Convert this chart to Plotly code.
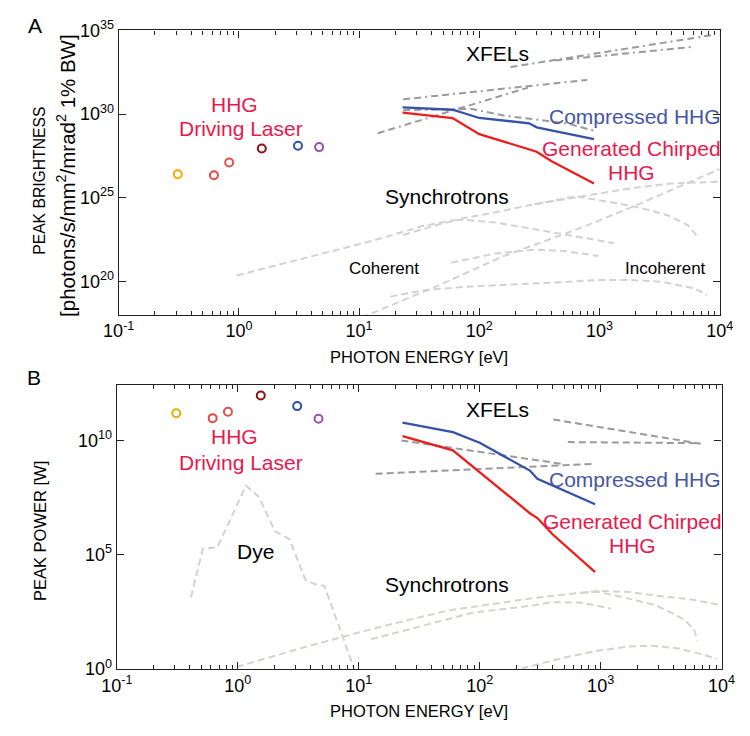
import plotly.graph_objects as go

# ---------------- data ----------------
laser_energy = [0.31, 0.62, 0.83, 1.55, 3.1, 4.65]
laser_colors = ["#f2a900", "#e8473f", "#e2504c", "#8b1212", "#2f50a8", "#9b4fb0"]
laser_brightness = [2.5e26, 2.2e26, 1.26e27, 8.7e27, 1.26e28, 1.05e28]
laser_power = [1.55e11, 9.5e10, 1.8e11, 9.3e11, 3.2e11, 8.9e10]

comp_E_A = [23, 60, 100, 260, 300, 900]
comp_B = [2.5e30, 1.8e30, 5.8e29, 2.8e29, 1.6e29, 3.2e28]
chirp_E_A = [23, 60, 100, 300, 400, 900]
chirp_B = [1.23e30, 5.8e29, 6.3e28, 5.6e27, 1.5e27, 7.1e25]

comp_E_B = [23, 60, 100, 260, 300, 900]
comp_P = [6.0e10, 2.3e10, 7.9e9, 4.8e8, 2.1e8, 1.6e7]
chirp_E_B = [23, 60, 260, 300, 400, 900]
chirp_P = [1.55e10, 3.7e9, 6.5e6, 4.0e6, 7.8e5, 1.7e4]

# XFELs, panel A (brightness)
xfelA = [
    ([23.3, 791], [7.6e30, 1.1e32]),
    ([14.3, 254], [7.1e28, 3.8e31]),
    ([23.3, 86.9, 160, 547, 951], [1.7e30, 2.0e30, 8.1e29, 2.7e29, 8.9e28]),
    ([182, 9120], [6.5e32, 5.6e34]),
    ([429, 6170], [1.6e33, 1.07e34]),
]
# Synchrotrons, panel A
syncA = [
    ([0.96, 13.8, 33.6, 115, 287, 721, 1810, 3990, 10000],
     [2.2e20, 3.0e22, 2.0e23, 1.05e24, 4.0e24, 1.2e25, 3.6e25, 7.1e25, 8.9e25]),
    ([287, 638, 1330, 2170, 3780, 5460, 6550],
     [4.0e24, 1.2e25, 4.9e24, 2.5e24, 8.3e23, 2.2e23, 4.6e22]),
    ([23.3, 45.7, 70.1, 138, 287, 527, 1320],
     [5.8e22, 2.5e23, 4.9e23, 3.2e23, 1.3e23, 5.8e22, 1.9e22]),
    ([58.3, 138, 287, 527, 979],
     [1.3e21, 4.6e21, 7.8e21, 6.3e21, 3.2e21]),
    ([18.2, 35.7, 79.3, 287, 527, 979, 1810, 3330, 4540, 6170, 7870],
     [1.2e19, 3.0e19, 4.7e19, 7.2e19, 9.1e19, 1.2e20, 1.2e20, 9.1e19, 5.8e19, 3.7e19, 1.5e19]),
    ([10.5, 45.7, 156, 287, 721, 1810, 4540, 10000],
     [6.8e17, 5.5e19, 3.0e21, 1.5e22, 1.7e23, 2.5e24, 4.6e25, 5.1e26]),
]
# XFELs, panel B (power)
xfelB = [
    ([13.8, 841], [3.5e8, 9.3e8]),
    ([22.5, 490], [1.0e10, 9.3e8]),
    ([406, 6690], [8.3e10, 7.2e9]),
    ([535, 6690], [8.5e9, 7.6e9]),
]
# Synchrotrons, panel B
syncB = [
    ([0.98, 3.5, 13.8, 54.4, 282, 703, 953, 1750, 2860, 5250, 9550],
     [1.2, 8.6, 61, 355, 1260, 2210, 2570, 2290, 1580, 1150, 630]),
    ([703, 953, 1750, 2860, 3860, 4940, 5930, 6300],
     [2210, 2340, 1150, 600, 280, 140, 51, 17]),
    ([12.6, 85.9, 282, 394, 703, 1220],
     [19.5, 280, 600, 830, 780, 430]),
    ([221, 282, 515, 953, 1750, 2670, 4380, 6650, 9080],
     [1.02, 1.45, 3.2, 6.2, 9.5, 10.2, 7.8, 4.5, 2.75]),
]
dye_E = [0.41, 0.515, 0.678, 1.17, 1.5, 2.03, 2.67, 3.62, 4.35, 5.2, 6.87, 9.6]
dye_P = [1350, 1.8e5, 2.1e5, 1.05e8, 3.3e7, 1.07e6, 4.8e5, 8100, 5000, 4300, 72, 0.5]

x_tickvals = [0.1, 1, 10, 100, 1000, 10000]
x_ticktext = ["10<sup>-1</sup>", "10<sup>0</sup>", "10<sup>1</sup>", "10<sup>2</sup>",
              "10<sup>3</sup>", "10<sup>4</sup>"]
yA_tickvals = [1e20, 1e25, 1e30, 1e35]
yA_ticktext = ["10<sup>20</sup>", "10<sup>25</sup>", "10<sup>30</sup>", "10<sup>35</sup>"]
yB_tickvals = [1, 1e5, 1e10]
yB_ticktext = ["10<sup>0</sup>", "10<sup>5</sup>", "10<sup>10</sup>"]

# ---------------- styling ----------------
W, H = 750, 736
FONT = "Liberation Sans, Arial, Helvetica, sans-serif"
XFEL_GRAY = "#9a9a9a"
SYNC_GRAY = "#d2d2d2"
SYNC_GRAY_B = "#d6d2cc"
BLUE = "#3652a6"
RED = "#ee1d1d"
CRIMSON = "#e8194c"
TEXTBLUE = "#4655a5"
DASH = "7px,4px"
DASHDOT = "7px,4px,7px,4px,2px,4px"


def pxx(x):
    return x / W


def pyy(y):
    return 1 - y / H


fig = go.Figure()

def line(xs, ys, color, dash, width, xa, ya):
    fig.add_trace(go.Scatter(x=xs, y=ys, mode="lines", xaxis=xa, yaxis=ya,
                             line=dict(color=color, dash=dash, width=width),
                             showlegend=False, hoverinfo="skip"))

# panel A
for xs, ys in syncA:
    line(xs, ys, SYNC_GRAY, DASH, 2, "x", "y")
for xs, ys in xfelA:
    line(xs, ys, XFEL_GRAY, DASHDOT, 2, "x", "y")
line(comp_E_A, comp_B, BLUE, "solid", 2.3, "x", "y")
line(chirp_E_A, chirp_B, RED, "solid", 2.3, "x", "y")
fig.add_trace(go.Scatter(x=laser_energy, y=laser_brightness, mode="markers", xaxis="x", yaxis="y",
                         marker=dict(symbol="circle-open", size=8, color=laser_colors,
                                     line=dict(width=2, color=laser_colors)),
                         showlegend=False, hoverinfo="skip"))

# panel B
for xs, ys in syncB:
    line(xs, ys, SYNC_GRAY_B, DASH, 2, "x2", "y2")
line(dye_E, dye_P, SYNC_GRAY, DASH, 2, "x2", "y2")
for xs, ys in xfelB:
    line(xs, ys, XFEL_GRAY, DASH, 2, "x2", "y2")
line(comp_E_B, comp_P, BLUE, "solid", 2.3, "x2", "y2")
line(chirp_E_B, chirp_P, RED, "solid", 2.3, "x2", "y2")
fig.add_trace(go.Scatter(x=laser_energy, y=laser_power, mode="markers", xaxis="x2", yaxis="y2",
                         marker=dict(symbol="circle-open", size=8, color=laser_colors,
                                     line=dict(width=2, color=laser_colors)),
                         showlegend=False, hoverinfo="skip"))

minor_vals = [k * 10 ** d for d in range(-1, 4) for k in range(2, 10)]

axis_common = dict(showline=True, linecolor="#222", linewidth=1.3, mirror="allticks",
                   ticks="inside", ticklen=7, tickwidth=1.2, tickcolor="#222",
                   showgrid=False, zeroline=False, tickfont=dict(size=18, color="black", family=FONT))

xaxis_common = dict(axis_common, type="log", range=[-1, 4], tickmode="array",
                    tickvals=x_tickvals, ticktext=x_ticktext,
                    minor=dict(tickmode="array", tickvals=minor_vals, ticks="inside",
                               ticklen=4, tickwidth=1, tickcolor="#222", showgrid=False))

fig.update_layout(
    width=W, height=H, margin=dict(l=0, r=0, t=0, b=0),
    paper_bgcolor="white", plot_bgcolor="white",
    font=dict(family=FONT, color="black"),
    xaxis=dict(xaxis_common, domain=[pxx(107), pxx(733)], anchor="y"),
    yaxis=dict(axis_common, type="log", range=[18, 35], domain=[pyy(312), pyy(19)], anchor="x",
               tickmode="array", tickvals=yA_tickvals, ticktext=yA_ticktext),
    xaxis2=dict(xaxis_common, domain=[pxx(105), pxx(735)], anchor="y2"),
    yaxis2=dict(axis_common, type="log", range=[0, 12.45], domain=[pyy(677), pyy(384)], anchor="x2",
                tickmode="array", tickvals=yB_tickvals, ticktext=yB_ticktext),
)

annots = []

def txt(text, x, y, size, color="black", angle=0):
    annots.append(dict(text=text, x=pxx(x), y=pyy(y), xref="paper", yref="paper",
                       showarrow=False, xanchor="center", yanchor="middle", textangle=angle,
                       font=dict(size=size, color=color, family=FONT)))

# panel labels
txt("A", 20, 14, 21)
txt("B", 19, 377, 21)
# axis titles
txt("PHOTON ENERGY [eV]", 420, 356, 16.5)
txt("PHOTON ENERGY [eV]", 420, 721, 16.5)
txt("PEAK BRIGHTNESS", 25, 174, 15.7, angle=-90)
txt("[photons/s/mm<sup>2</sup>/mrad<sup>2</sup> 1% BW]", 52, 168, 20.5, angle=-90)
txt("PEAK POWER [W]", 25, 535, 16.5, angle=-90)

# panel A labels
txt("HHG", 228, 95, 21, CRIMSON)
txt("Driving Laser", 234, 120, 21, CRIMSON)
txt("XFELs", 502, 43, 21)
txt("Compressed HHG", 645, 108, 21, TEXTBLUE)
txt("Generated Chirped", 641, 141, 21, CRIMSON)
txt("HHG", 641, 165, 21, CRIMSON)
txt("Synchrotrons", 449, 190, 21)
txt("Coherent", 383, 264, 17)
txt("Incoherent", 677, 264, 17)

# panel B labels
txt("HHG", 228, 438, 21, CRIMSON)
txt("Driving Laser", 234, 464, 21, CRIMSON)
txt("Dye", 249, 556, 21)
txt("XFELs", 502, 410, 21)
txt("Compressed HHG", 645, 482, 21, TEXTBLUE)
txt("Generated Chirped", 642, 525, 21, CRIMSON)
txt("HHG", 642, 550, 21, CRIMSON)
txt("Synchrotrons", 449, 590, 21)

fig.update_layout(annotations=annots)

fig.write_html("out.html",
               post_script="document.body.style.margin='0px';document.body.style.overflow='hidden';")
